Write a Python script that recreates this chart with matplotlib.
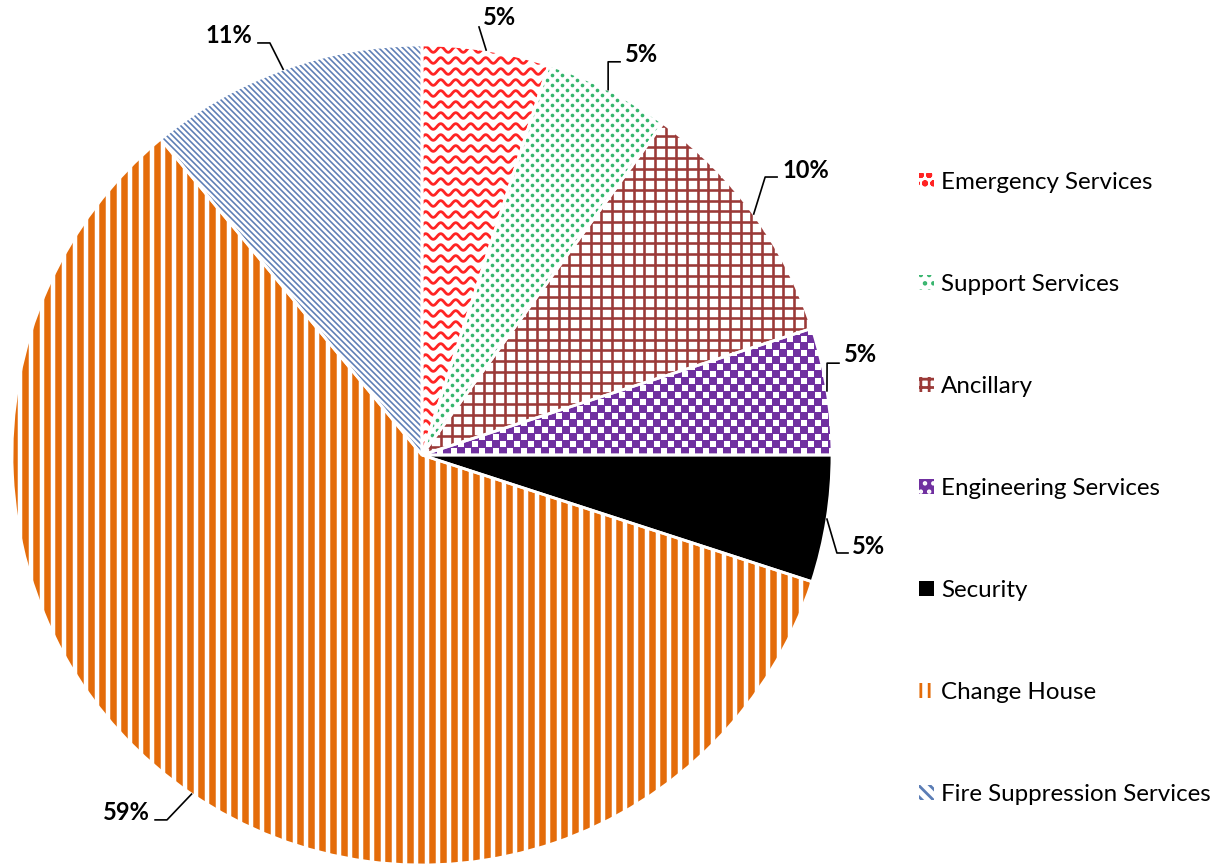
import numpy as np
import matplotlib
matplotlib.use('Agg')
import matplotlib.pyplot as plt
from matplotlib.collections import LineCollection
from matplotlib.patches import Patch
from matplotlib import rcParams

rcParams['font.family'] = ['Lato', 'DejaVu Sans']
rcParams['hatch.linewidth'] = 2.0

categories = ['Emergency Services', 'Support Services', 'Ancillary',
              'Engineering Services', 'Security', 'Change House',
              'Fire Suppression Services']
shares = [5, 5, 10, 5, 5, 59, 11]

# leader lines: elbow point, end of the short tail, and centre of the label text
elbow = [(0.139, 1.044), (0.454, 0.959), (0.837, 0.678), (0.988, 0.224),
         (1.012, -0.239), (-0.622, -0.890), (-0.371, 1.005)]
tail = [(0.139, 1.044), (0.483, 0.959), (0.866, 0.678), (1.017, 0.224),
        (1.039, -0.239), (-0.651, -0.890), (-0.400, 1.005)]
txt = [(0.190, 1.066), (0.536, 0.978), (0.936, 0.693), (1.070, 0.244),
       (1.090, -0.222), (-0.722, -0.871), (-0.470, 1.022)]

red = '#FF2424'
green = '#35B46C'
brown = '#9B3A38'
purple = '#7030A0'
orange = '#E46C0A'
steel = '#5B7DB5'

fig = plt.figure(figsize=(12.31, 8.66), dpi=100)
ax = fig.add_axes([12 / 1231, 1 / 866, 820 / 1231, 820 / 866])

faces = ['white', 'white', 'white', purple, 'black', 'white', 'white']
wedges, _ = ax.pie(shares, startangle=90, counterclock=False, radius=1.0,
                   colors=faces, wedgeprops=dict(linewidth=0))
ax.set_xlim(-1, 1)
ax.set_ylim(-1, 1)
ax.set_aspect('auto')
ax.axis('off')

px = 1.0 / 410          # one pixel in data units
lw = 0.72               # one pixel in points


def add_lines(segs, wedge, color, width):
    lc = LineCollection(segs, colors=color, linewidths=width * lw, zorder=2)
    ax.add_collection(lc)
    lc.set_clip_path(wedge)


# Emergency Services: red waves
xs = np.linspace(-1.05, 1.05, 3000)
rows = np.arange(-1.05, 1.05, 11 * px)
segs = [np.column_stack([xs, y0 + 2.8 * px * np.sin(2 * np.pi * xs / (15 * px))]) for y0 in rows]
add_lines(segs, wedges[0], red, 2.8)

# Support Services: staggered green dots
gx, gy = np.meshgrid(np.arange(-1.05, 1.05, 10 * px), np.arange(-1.05, 1.05, 5 * px))
gx = gx + (np.arange(gx.shape[0])[:, None] % 2) * 5 * px
sc = ax.scatter(gx.ravel(), gy.ravel(), s=7, color=green, linewidths=0, zorder=2)
sc.set_clip_path(wedges[1])

# Ancillary: brown grid
g = np.arange(-1.05, 1.05, 10.7 * px)
segs = [[(v, -1.05), (v, 1.05)] for v in g] + [[(-1.05, v), (1.05, v)] for v in g]
add_lines(segs, wedges[2], brown, 2.6)

# Engineering Services: white squares on purple
gx, gy = np.meshgrid(np.arange(-1.05, 1.05, 14 * px), np.arange(-1.05, 1.05, 7 * px))
gx = gx + (np.arange(gx.shape[0])[:, None] % 2) * 7 * px
sc = ax.scatter(gx.ravel(), gy.ravel(), s=13, marker='s', color='white', linewidths=0, zorder=2)
sc.set_clip_path(wedges[3])

# Change House: vertical orange stripes
segs = [[(v, -1.05), (v, 1.05)] for v in np.arange(-1.05, 1.05, 11 * px)]
add_lines(segs, wedges[5], orange, 6.5)

# Fire Suppression Services: fine diagonal stripes
segs = [[(-1.1, c + 1.1), (1.1, c - 1.1)] for c in np.arange(-2.2, 2.2, 6 * px)]
add_lines(segs, wedges[6], steel, 1.6)

# thin white gaps between slices
ax.pie(shares, startangle=90, counterclock=False, radius=1.0,
       colors=['none'] * 7, wedgeprops=dict(edgecolor='white', linewidth=2, zorder=3))
ax.set_xlim(-1, 1)
ax.set_ylim(-1, 1)
ax.set_aspect('auto')

# percentage labels with leader lines
theta = 90 - 360 * (np.cumsum(shares) - np.array(shares) / 2) / sum(shares)
for i, v in enumerate(shares):
    a = np.deg2rad(theta[i])
    p0 = (np.cos(a), np.sin(a))
    ax.plot([p0[0], elbow[i][0], tail[i][0]], [p0[1], elbow[i][1], tail[i][1]],
            color='black', lw=1.2, clip_on=False, zorder=4)
    ax.text(txt[i][0], txt[i][1], f'{v}%', ha='center', va='center',
            fontsize=17, fontweight='bold', color='black', clip_on=False)

handles = [
    Patch(facecolor='white', edgecolor=red, hatch='oo', linewidth=0),
    Patch(facecolor='white', edgecolor=green, hatch='..', linewidth=0),
    Patch(facecolor='white', edgecolor=brown, hatch='++', linewidth=0),
    Patch(facecolor=purple, edgecolor='white', hatch='..', linewidth=0),
    Patch(facecolor='black', edgecolor='black', linewidth=0),
    Patch(facecolor='white', edgecolor=orange, hatch='||', linewidth=0),
    Patch(facecolor='white', edgecolor=steel, hatch='\\\\\\', linewidth=0),
]
fig.legend(handles, categories, loc='center left', bbox_to_anchor=(919 / 1231, 0.436),
           frameon=False, fontsize=17.4, handlelength=0.6, handleheight=0.6,
           handletextpad=0.3, labelspacing=3.35, borderpad=0, borderaxespad=0)

fig.savefig('out.png', dpi=100, facecolor='white')
